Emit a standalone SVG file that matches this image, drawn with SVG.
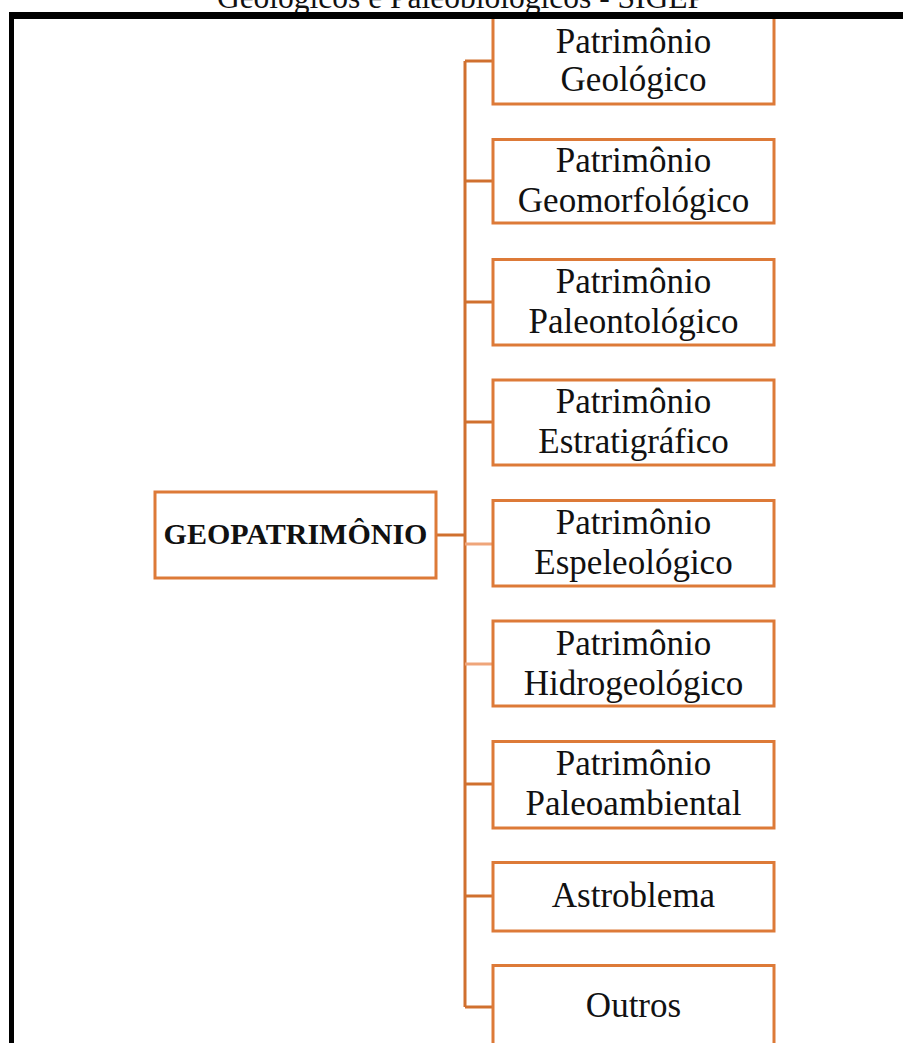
<svg xmlns="http://www.w3.org/2000/svg" width="903" height="1043" viewBox="0 0 903 1043">
<style>
.box{fill:#fff;stroke:#DD7A38;stroke-width:3}
.t{font-family:"Liberation Serif","Times New Roman",serif;font-size:35px;fill:#111;text-anchor:middle}
.tb{font-family:"Liberation Serif","Times New Roman",serif;font-size:30px;font-weight:bold;fill:#111;text-anchor:middle}
.ln{stroke:#D0702F;stroke-width:3;fill:none}
.lt{stroke:#EFA57A;stroke-width:3;fill:none}
</style>
<rect x="0" y="0" width="903" height="1043" fill="#fff"/>
<text x="461" y="8" font-family="Liberation Serif,'Times New Roman',serif" font-size="31.5" fill="#111" text-anchor="middle">Geológicos e Paleobiológicos - SIGEP</text>
<g id="connectors">
<line class="ln" x1="465" y1="61" x2="465" y2="1007"/>
<line class="ln" x1="436" y1="535" x2="465" y2="535" stroke="#C5692E" stroke-width="3.5"/>
<line class="ln" x1="465" y1="61" x2="493" y2="61"/>
<line class="ln" x1="465" y1="181" x2="493" y2="181"/>
<line class="ln" x1="465" y1="302" x2="493" y2="302"/>
<line class="ln" x1="465" y1="422" x2="493" y2="422"/>
<line class="lt" x1="465" y1="544" x2="493" y2="544"/>
<line class="lt" x1="465" y1="664" x2="493" y2="664"/>
<line class="ln" x1="465" y1="784" x2="493" y2="784"/>
<line class="ln" x1="465" y1="896" x2="493" y2="896"/>
<line class="ln" x1="465" y1="1007" x2="493" y2="1007"/>
</g>
<g id="geopatrimonio">
<rect class="box" x="155" y="492" width="281" height="86"/>
<text class="tb" x="295.5" y="544">GEOPATRIMÔNIO</text>
</g>
<g id="geologico">
<rect class="box" x="493" y="15" width="281" height="89"/>
<text class="t" x="633.5" y="53">Patrimônio</text>
<text class="t" x="633.5" y="91">Geológico</text>
</g>
<g id="geomorfologico">
<rect class="box" x="493" y="139.5" width="281" height="83.5"/>
<text class="t" x="633.5" y="172">Patrimônio</text>
<text class="t" x="633.5" y="212">Geomorfológico</text>
</g>
<g id="paleontologico">
<rect class="box" x="493" y="259.5" width="281" height="85.5"/>
<text class="t" x="633.5" y="293">Patrimônio</text>
<text class="t" x="633.5" y="333">Paleontológico</text>
</g>
<g id="estratigrafico">
<rect class="box" x="493" y="380" width="281" height="85"/>
<text class="t" x="633.5" y="413">Patrimônio</text>
<text class="t" x="633.5" y="453">Estratigráfico</text>
</g>
<g id="espeleologico">
<rect class="box" x="493" y="500.5" width="281" height="85.5"/>
<text class="t" x="633.5" y="534">Patrimônio</text>
<text class="t" x="633.5" y="574">Espeleológico</text>
</g>
<g id="hidrogeologico">
<rect class="box" x="493" y="621" width="281" height="85"/>
<text class="t" x="633.5" y="655">Patrimônio</text>
<text class="t" x="633.5" y="695">Hidrogeológico</text>
</g>
<g id="paleoambiental">
<rect class="box" x="493" y="741.5" width="281" height="86.5"/>
<text class="t" x="633.5" y="775">Patrimônio</text>
<text class="t" x="633.5" y="815">Paleoambiental</text>
</g>
<g id="astroblema">
<rect class="box" x="493" y="862.5" width="281" height="68.5"/>
<text class="t" x="633.5" y="907">Astroblema</text>
</g>
<g id="outros">
<rect class="box" x="493" y="965.5" width="281" height="90"/>
<text class="t" x="633.5" y="1017">Outros</text>
</g>
<g id="frame">
<rect x="9" y="12" width="894" height="7" fill="#000"/>
<rect x="9" y="12" width="5" height="1031" fill="#000"/>
</g>
</svg>
